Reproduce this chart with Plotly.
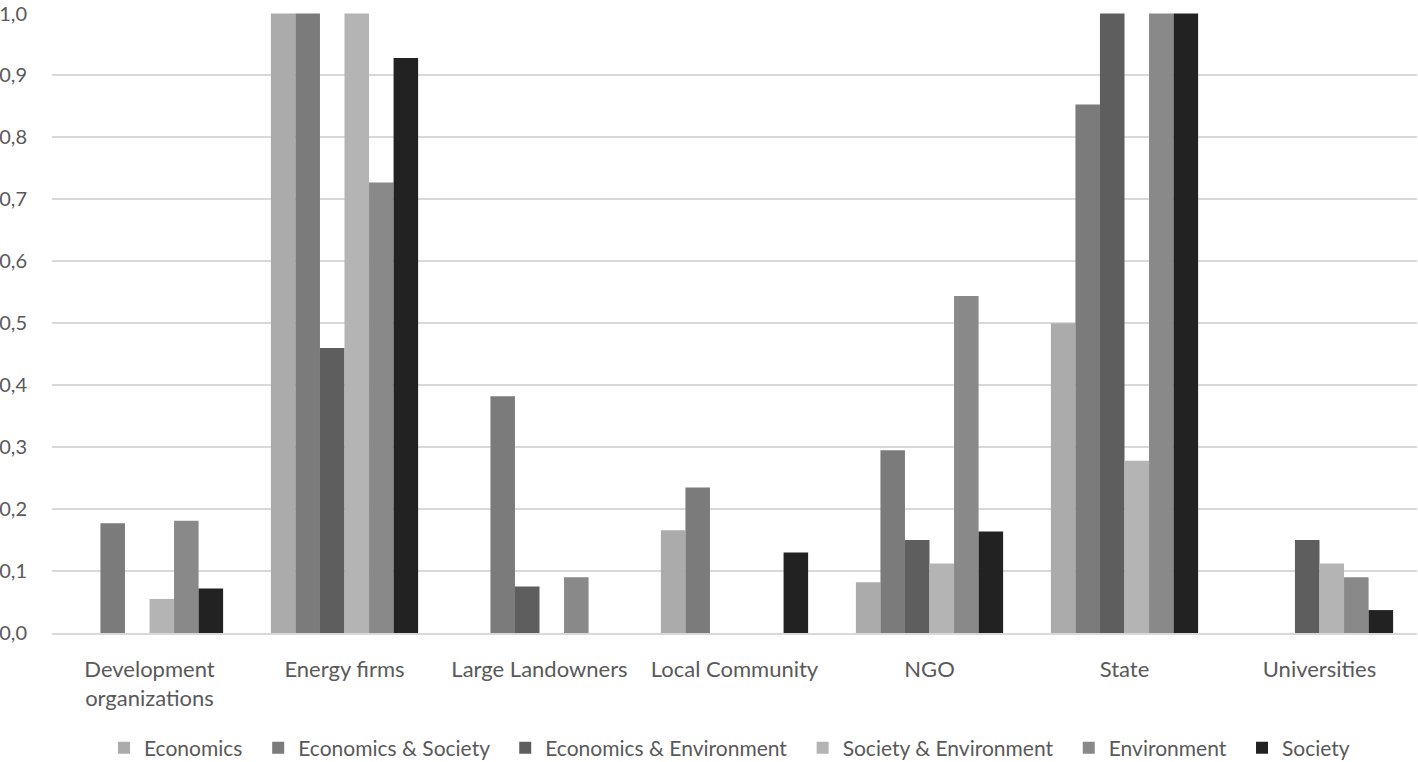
import plotly.graph_objects as go

categories = ["Development<br>organizations", "Energy firms", "Large Landowners",
              "Local Community", "NGO", "State", "Universities"]

economics = [0, 1.0, 0, 0.166, 0.082, 0.50, 0]
economics_society = [0.177, 1.0, 0.382, 0.235, 0.295, 0.853, 0]
economics_environment = [0, 0.460, 0.075, 0, 0.150, 1.0, 0.150]
society_environment = [0.055, 1.0, 0, 0, 0.112, 0.278, 0.112]
environment = [0.181, 0.727, 0.090, 0, 0.544, 1.0, 0.090]
society = [0.072, 0.928, 0, 0.130, 0.164, 1.0, 0.037]

series = [
    ("Economics", economics, "#ABABAB"),
    ("Economics & Society", economics_society, "#7B7B7B"),
    ("Economics & Environment", economics_environment, "#5E5E5E"),
    ("Society & Environment", society_environment, "#B4B4B4"),
    ("Environment", environment, "#898989"),
    ("Society", society, "#222222"),
]

fig = go.Figure()
for name, vals, col in series:
    fig.add_trace(go.Bar(name=name + "\u00a0\u00a0", x=categories, y=vals,
                         marker=dict(color=col, line=dict(width=0))))

font_family = "Lato, 'Open Sans', sans-serif"
fig.update_layout(
    width=1418, height=762,
    barmode="group", bargap=0.245, bargroupgap=0,
    plot_bgcolor="white", paper_bgcolor="white",
    separators=", ",
    margin=dict(l=52, r=1, t=13, b=129, autoexpand=False),
    font=dict(family=font_family, size=21, color="#595959"),
    yaxis=dict(range=[0, 1.0008], tickvals=[i / 10 for i in range(11)], tickformat=".1f",
               showgrid=True, gridcolor="#D9D9D9", gridwidth=1.5,
               zeroline=False, showline=False, automargin=False,
               ticks="outside", ticklen=20, tickcolor="rgba(0,0,0,0)",
               ticklabeloverflow="allow",
               tickfont=dict(size=20, color="#595959")),
    xaxis=dict(showline=True, linecolor="#D9D9D9", linewidth=1.5, automargin=False,
               ticks="outside", ticklen=16, tickcolor="rgba(0,0,0,0)",
               tickfont=dict(size=22, color="#595959")),
    legend=dict(orientation="h", x=0.5, xanchor="center", y=-0.1856, yanchor="middle",
                font=dict(size=21, color="#595959"), itemwidth=30,
                traceorder="normal"),
)

fig.write_html("out.html", config={"displayModeBar": False},
               post_script="document.body.style.margin='0';")
